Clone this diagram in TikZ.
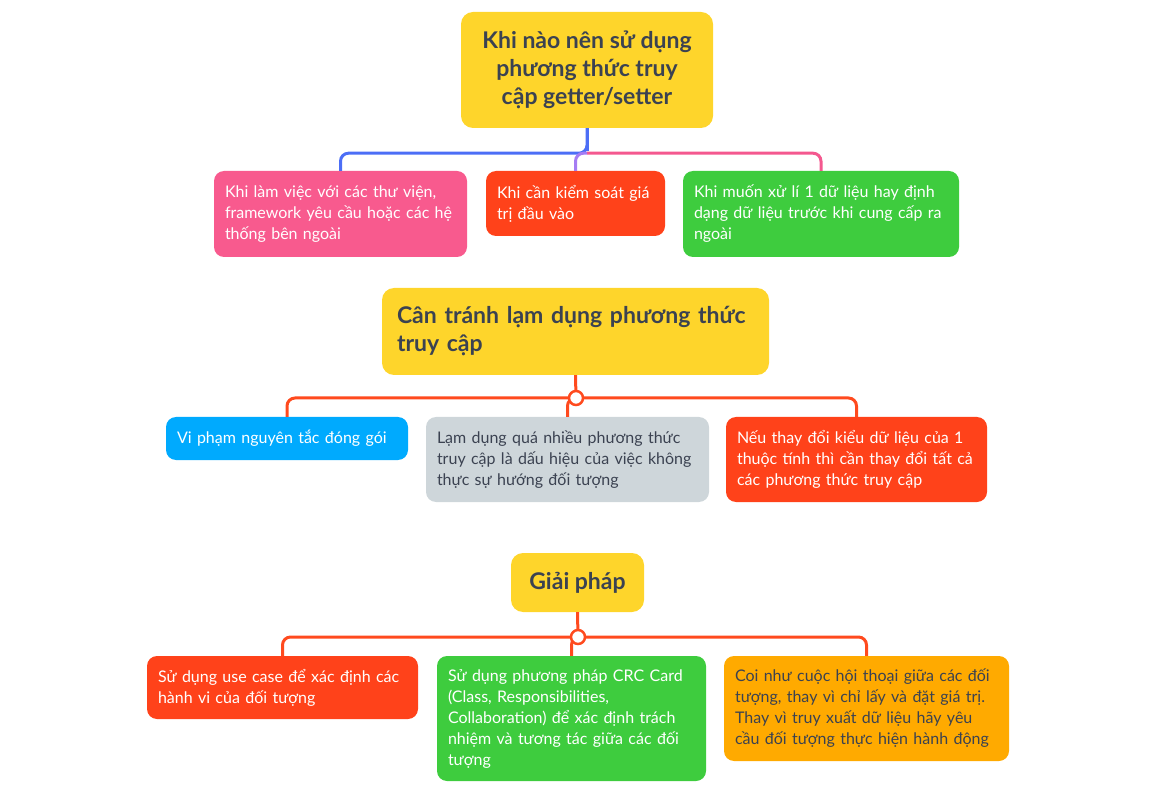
\documentclass[tikz,border=0pt]{standalone}
\usepackage{fontspec}
\setmainfont{Lato}
\usepackage{xcolor}
\usepackage{tikz}
\definecolor{topicyellow}{HTML}{FED52B}
\definecolor{inkgray}{HTML}{3B4251}
\definecolor{leafpink}{HTML}{F85A8E}
\definecolor{leafred}{HTML}{FF421A}
\definecolor{leafgreen}{HTML}{3ECC3E}
\definecolor{leafblue}{HTML}{00AAFE}
\definecolor{leafgray}{HTML}{CED6DA}
\definecolor{leaforange}{HTML}{FFAA00}
\definecolor{lineblue}{HTML}{4C6EF6}
\definecolor{linepurple}{HTML}{A57CF3}
\definecolor{linepink}{HTML}{F4588F}
\definecolor{linered}{HTML}{FF4A1E}

\begin{document}
\begin{tikzpicture}[
    x=1pt, y=-1pt,
    topic/.style={rectangle, rounded corners=12pt, fill=topicyellow,
                  text=inkgray, inner xsep=17pt, inner ysep=0pt,
                  font=\fontsize{23}{28}\selectfont\bfseries},
    leaf/.style={rectangle, rounded corners=10pt, inner xsep=11pt,
                 inner ysep=0pt, align=left, text=white,
                 font=\fontsize{16}{21}\selectfont},
    branch/.style={line width=3pt, rounded corners=8pt},
    knot/.style={circle, draw=linered, line width=2.5pt, fill=white,
                 inner sep=0pt, minimum size=14pt}
]
\useasboundingbox (0,0) rectangle (1152,810);

% cay 1
\node[topic, align=center, minimum width=252pt, minimum height=116pt] (when) at (587,70)
    {Khi nào nên sử dụng\\phương thức truy\\cập getter/setter};
\node[leaf, fill=leafpink, text width=231pt, minimum height=86pt] (libs) at (340.5,214)
    {Khi làm việc với các thư viện,\\framework yêu cầu hoặc các hệ\\thống bên ngoài};
\node[leaf, fill=leafred, text width=157pt, minimum height=65pt] (check) at (575.5,203.5)
    {Khi cần kiểm soát giá\\trị đầu vào};
\node[leaf, fill=leafgreen, text width=254pt, minimum height=86pt] (format) at (821,214)
    {Khi muốn xử lí 1 dữ liệu hay định\\dạng dữ liệu trước khi cung cấp ra\\ngoài};

\draw[branch, lineblue] (when.south) -- ++(0,25) -| (libs.north);
\draw[branch, linepink] (when.south) ++(0,25) -| (format.north);
\draw[branch, linepurple] (when.south) ++(0,25) -| (check.north);
\draw[line width=3pt, lineblue] (when.south) -- ++(0,23);

% cay 2
\node[topic, align=left, inner xsep=15pt, text width=357pt, minimum height=87pt] (avoid) at (575.5,331.5)
    {Cân tránh lạm dụng phương thức\\truy cập};
\node[leaf, fill=leafblue, text width=220pt, minimum height=43pt] (encap) at (287,438.5)
    {Vi phạm nguyên tắc đóng gói};
\node[leaf, fill=leafgray, text=inkgray, text width=261pt, minimum height=85pt] (notoop) at (567.5,459.5)
    {Lạm dụng quá nhiều phương thức\\truy cập là dấu hiệu của việc không\\thực sự hướng đối tượng};
\node[leaf, fill=leafred, text width=239pt, minimum height=85pt] (change) at (856.5,459.5)
    {Nếu thay đổi kiểu dữ liệu của 1\\thuộc tính thì cần thay đổi tất cả\\các phương thức truy cập};

\coordinate (k2) at (576,398);
\draw[branch, linered] (avoid.south) -- (k2);
\draw[branch, linered] (k2) -| (encap.north);
\draw[branch, linered] (k2) -| (notoop.north);
\draw[branch, linered] (k2) -| (change.north);
\node[knot] (knot2) at (k2) {};

% cay 3
\node[topic, align=center, minimum width=133pt, minimum height=59pt] (solution) at (577.5,582.5)
    {Giải pháp};
\node[leaf, fill=leafred, text width=249pt, minimum height=63pt] (usecase) at (282.5,687.5)
    {Sử dụng use case để xác định các\\hành vi của đối tượng};
\node[leaf, fill=leafgreen, text width=247pt, minimum height=125pt] (crc) at (571.5,718.5)
    {Sử dụng phương pháp CRC Card\\(Class, Responsibilities,\\Collaboration) để xác định trách\\nhiệm và tương tác giữa các đối\\tượng};
\node[leaf, fill=leaforange, text=inkgray, text width=263pt, minimum height=105pt] (talk) at (866.5,708.5)
    {Coi như cuộc hội thoại giữa các đối\\tượng, thay vì chỉ lấy và đặt giá trị.\\Thay vì truy xuất dữ liệu hãy yêu\\cầu đối tượng thực hiện hành động};

\coordinate (k3) at (578,637);
\draw[branch, linered] (solution.south) -- (k3);
\draw[branch, linered] (k3) -| (usecase.north);
\draw[branch, linered] (k3) -| (crc.north);
\draw[branch, linered] (k3) -| (talk.north);
\node[knot] (knot3) at (k3) {};
\end{tikzpicture}
\end{document}
